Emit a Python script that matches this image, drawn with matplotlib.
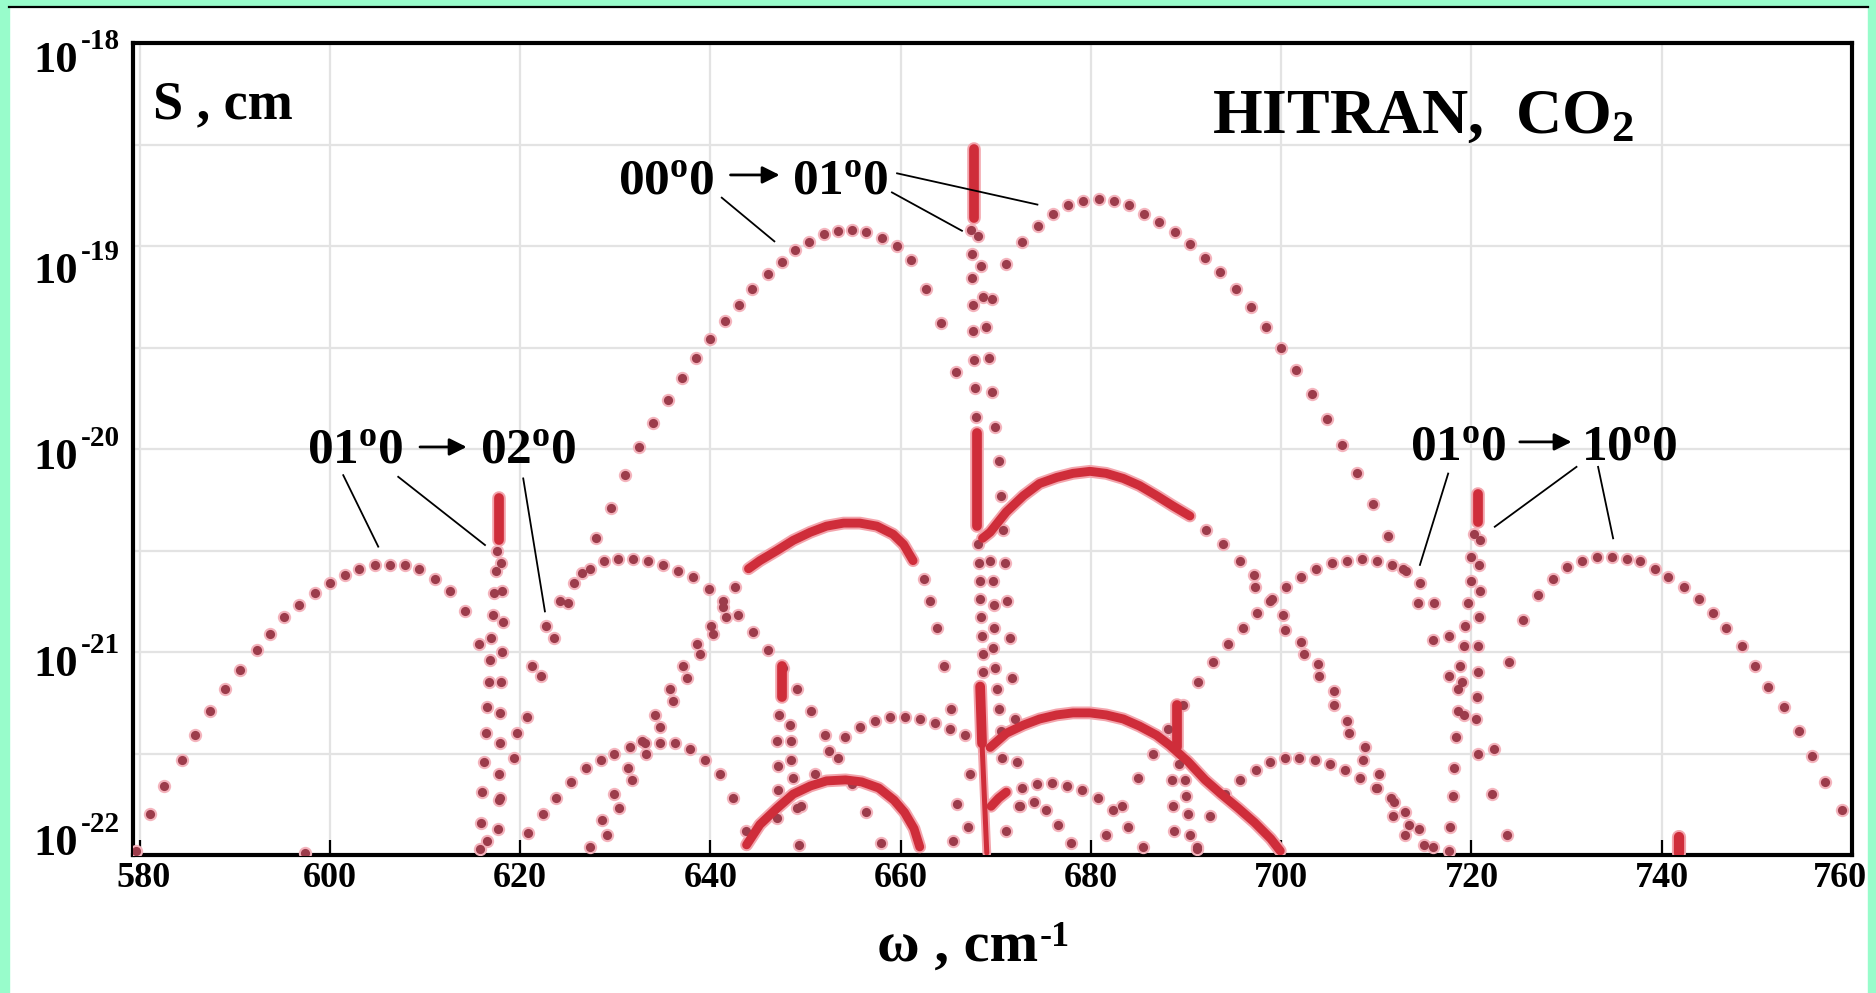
import numpy as np
import matplotlib
matplotlib.use('Agg')
import matplotlib.pyplot as plt
from matplotlib.patches import Rectangle
from matplotlib.lines import Line2D
from matplotlib.transforms import ScaledTranslation

plt.rcParams['font.family'] = ['Liberation Serif', 'DejaVu Serif']
plt.rcParams['mathtext.fontset'] = 'custom'
plt.rcParams['mathtext.rm'] = 'Liberation Serif:bold'
plt.rcParams['mathtext.bf'] = 'Liberation Serif:bold'
plt.rcParams['mathtext.it'] = 'Liberation Serif:bold'

# ---------------------------------------------------------------------------
# Line positions (cm^-1) and log10 of line intensities S (cm/molecule)
# ---------------------------------------------------------------------------
# 00^0 0 -> 01^1 0 fundamental
fund_p_nu = [665.8, 664.2, 662.7, 661.1, 659.6, 658.0, 656.4, 654.9, 653.4, 651.9, 650.4, 648.9,
             647.5, 646.0, 644.4, 643.0, 641.5, 640.0, 638.5, 637.0, 635.5, 634.0, 632.5, 631.0,
             629.5, 628.0, 626.5, 625.0, 623.6, 622.2, 620.7, 619.3, 617.9, 616.5]
fund_p_logs = [-19.62, -19.38, -19.21, -19.07, -19.00, -18.96, -18.93, -18.92, -18.925, -18.94, -18.98, -19.02,
               -19.08, -19.14, -19.21, -19.29, -19.37, -19.46, -19.55, -19.65, -19.76, -19.87, -19.99, -20.13,
               -20.29, -20.44, -20.61, -20.76, -20.93, -21.12, -21.32, -21.52, -21.72, -21.93]
fund_r_nu = [669.6, 671.1, 672.8, 674.4, 676.0, 677.6, 679.2, 680.8, 682.4, 684.0, 685.6, 687.2,
             688.8, 690.4, 692.0, 693.6, 695.2, 696.8, 698.4, 700.0, 701.6, 703.2, 704.8, 706.4,
             708.0, 709.6, 711.2, 712.8, 714.4, 716.0, 717.6, 719.2, 720.7, 722.2, 723.7]
fund_r_logs = [-19.26, -19.09, -18.98, -18.90, -18.84, -18.80, -18.78, -18.77, -18.78, -18.80, -18.84, -18.88,
               -18.93, -18.99, -19.06, -19.13, -19.21, -19.30, -19.40, -19.50, -19.61, -19.73, -19.85, -19.98,
               -20.12, -20.27, -20.43, -20.59, -20.76, -20.94, -21.12, -21.31, -21.50, -21.70, -21.90]
fund_q_top_nu = [667.7, 667.7]
fund_q_top_logs = [-18.52, -18.86]
fund_q_c1_nu = [667.4, 667.5, 667.5, 667.6, 667.6, 667.7, 667.8, 667.9, 669.4, 669.7, 669.8, 669.8,
                669.7, 669.9, 670.1, 670.3, 670.5, 670.7]
fund_q_c1_logs = [-18.92, -19.04, -19.16, -19.29, -19.42, -19.56, -19.70, -19.84, -20.55, -20.65, -20.77, -20.88,
                  -20.98, -21.08, -21.18, -21.28, -21.39, -21.52]
fund_q_c2_nu = [668.1, 668.4, 668.7, 669.0, 669.3, 669.6, 669.9, 670.3, 670.5, 670.8, 671.0, 671.2,
                671.5, 671.7, 672.0, 672.2, 672.4]
fund_q_c2_logs = [-18.95, -19.10, -19.25, -19.40, -19.55, -19.72, -19.89, -20.06, -20.23, -20.40, -20.56, -20.75,
                  -20.93, -21.13, -21.33, -21.54, -21.76]

# 01^1 0 -> 02^2 0 hot band
hot1_q_top_nu = [668.0, 668.0]
hot1_q_top_logs = [-19.92, -20.38]
hot1_q_c_nu = [668.1, 668.2, 668.3, 668.3, 668.4, 668.5, 668.6, 668.6]
hot1_q_c_logs = [-20.47, -20.56, -20.65, -20.74, -20.83, -20.92, -21.01, -21.10]
hot1_p_line_nu = [644.0, 645.2, 647.0, 648.7, 650.5, 652.2, 654.0, 655.7, 657.5, 659.2, 660.3, 661.3]
hot1_p_line_logs = [-20.59, -20.55, -20.50, -20.45, -20.41, -20.38, -20.365, -20.365, -20.38, -20.42, -20.47, -20.55]
hot1_p_nearq_nu = [662.4, 663.1, 663.8, 664.6, 665.3]
hot1_p_nearq_logs = [-20.64, -20.75, -20.88, -21.07, -21.28]
hot1_p_tail_a_nu = [642.6, 641.3, 640.1, 638.6, 637.1, 635.7, 634.2, 632.8, 631.3, 629.9, 628.6, 627.3]
hot1_p_tail_a_logs = [-20.68, -20.78, -20.87, -20.96, -21.07, -21.18, -21.31, -21.44, -21.57, -21.70, -21.83, -21.96]
hot1_p_tail_b_nu = [641.6, 640.3, 638.9, 637.5, 636.1, 634.7, 633.2, 631.8, 630.4, 629.1]
hot1_p_tail_b_logs = [-20.83, -20.91, -21.01, -21.13, -21.24, -21.37, -21.50, -21.63, -21.77, -21.90]
hot1_r_line_nu = [668.6, 669.4, 671.1, 672.9, 674.6, 676.4, 678.1, 679.9, 681.6, 683.4, 685.1, 686.9, 688.6, 690.4]
hot1_r_line_logs = [-20.44, -20.41, -20.31, -20.23, -20.17, -20.14, -20.12, -20.11, -20.12, -20.145, -20.18, -20.23,
                    -20.28, -20.33]
hot1_r_tail_a_nu = [692.1, 693.9, 695.7, 697.1, 698.8, 700.2, 702.1, 703.9, 705.5, 706.9, 708.8, 710.3, 711.9,
                    713.4, 715.0]
hot1_r_tail_a_logs = [-20.40, -20.47, -20.55, -20.62, -20.75, -20.82, -20.95, -21.06, -21.19, -21.34, -21.47,
                      -21.60, -21.74, -21.85, -21.95]
hot1_r_tail_b_nu = [697.2, 700.4, 702.4, 704.0, 705.6, 707.1, 708.6, 710.1, 711.7, 713.0]
hot1_r_tail_b_logs = [-20.68, -20.89, -21.01, -21.12, -21.26, -21.40, -21.53, -21.67, -21.81, -21.90]

# 02^2 0 -> 03^3 0 hot band
hot2_q_top_nu = [668.35, 668.55]
hot2_q_top_logs = [-21.17, -21.45]
hot2_q_low_nu = [668.55, 668.8, 669.05]
hot2_q_low_logs = [-21.45, -21.72, -21.99]
hot2_p_nu = [643.8, 645.2, 647.0, 648.7, 650.5, 652.2, 654.2, 655.9, 657.7, 659.3, 660.4, 661.4, 662.0]
hot2_p_logs = [-21.95, -21.85, -21.77, -21.70, -21.66, -21.635, -21.63, -21.64, -21.67, -21.73, -21.79, -21.87,
               -21.96]
hot2_r_nu = [669.4, 671.1, 672.9, 674.6, 676.4, 678.1, 679.9, 681.6, 683.4, 685.1, 686.9, 688.3, 690.2,
             692.0, 693.7, 695.5, 697.2, 698.9, 699.9]
hot2_r_logs = [-21.47, -21.40, -21.36, -21.33, -21.31, -21.30, -21.30, -21.31, -21.33, -21.365, -21.41, -21.46,
               -21.54, -21.63, -21.70, -21.77, -21.84, -21.92, -21.98]

# 01^1 0 -> 02^0 0 band (618)
b618_p_nu = [579.6, 581.1, 582.6, 584.4, 585.8, 587.4, 589.0, 590.5, 592.3, 593.7, 595.2, 596.8,
             598.4, 600.0, 601.6, 603.1, 604.7, 606.3, 607.9, 609.4, 611.0, 612.6, 614.2, 615.7]
b618_p_logs = [-21.98, -21.80, -21.66, -21.53, -21.41, -21.29, -21.18, -21.09, -20.99, -20.91, -20.83, -20.77,
               -20.71, -20.66, -20.62, -20.59, -20.57, -20.57, -20.57, -20.59, -20.64, -20.70, -20.80, -20.96]
b618_q_top_nu = [617.8, 617.8]
b618_q_top_logs = [-20.24, -20.45]
b618_q_a_nu = [617.6, 617.5, 617.3, 617.1, 616.9, 616.8, 616.7, 616.5, 616.4, 616.2, 616.0, 615.9, 615.8]
b618_q_a_logs = [-20.50, -20.60, -20.71, -20.82, -20.93, -21.04, -21.15, -21.27, -21.40, -21.54, -21.69,
                 -21.84, -21.97]
b618_q_b_nu = [618.0, 618.1, 618.2, 618.1, 618.0, 617.9, 617.9, 617.8, 617.8, 617.7]
b618_q_b_logs = [-20.56, -20.70, -20.85, -21.00, -21.15, -21.30, -21.45, -21.60, -21.73, -21.87]
b618_r_nu = [619.7, 621.2, 622.7, 624.2, 625.7, 627.3, 628.8, 630.3, 631.9, 633.4, 635.0, 636.6, 638.2,
             639.8, 641.3, 642.9, 644.5, 646.1, 647.6, 649.1, 650.6, 652.0, 653.4, 654.9, 656.4, 657.9]
b618_r_logs = [-21.40, -21.07, -20.87, -20.75, -20.66, -20.59, -20.55, -20.54, -20.54, -20.55, -20.57, -20.60,
               -20.63, -20.69, -20.75, -20.82, -20.90, -20.99, -21.08, -21.18, -21.29, -21.41, -21.52, -21.65,
               -21.79, -21.94]

# 01^1 0 -> 10^0 0 band (721)
b721_p_nu = [681.6, 683.3, 684.9, 686.5, 688.1, 689.7, 691.2, 692.8, 694.4, 696.0, 697.5, 699.0, 700.5,
             702.1, 703.7, 705.3, 706.9, 708.5, 710.1, 711.6, 713.1, 714.6, 716.1, 717.6, 719.0]
b721_p_logs = [-21.90, -21.76, -21.62, -21.50, -21.38, -21.26, -21.15, -21.05, -20.96, -20.88, -20.81, -20.74,
               -20.68, -20.63, -20.59, -20.56, -20.55, -20.54, -20.55, -20.57, -20.60, -20.66, -20.76, -20.92,
               -21.15]
b721_q_top_nu = [720.7, 720.7]
b721_q_top_logs = [-20.22, -20.36]
b721_q_a_nu = [720.3, 720.0, 719.9, 719.6, 719.3, 719.2, 718.8, 718.6, 718.6, 718.4, 718.2, 718.1, 717.7, 717.6]
b721_q_a_logs = [-20.42, -20.53, -20.65, -20.76, -20.87, -20.97, -21.07, -21.18, -21.29, -21.42, -21.57,
                 -21.71, -21.86, -21.98]
b721_q_b_nu = [720.9, 720.8, 720.9, 720.8, 720.7, 720.7, 720.6, 720.5]
b721_q_b_logs = [-20.45, -20.57, -20.70, -20.83, -20.97, -21.10, -21.22, -21.33]
b721_r_nu = [722.4, 723.9, 725.4, 727.0, 728.6, 730.0, 731.6, 733.2, 734.8, 736.3, 737.7, 739.3, 740.7,
             742.3, 743.9, 745.4, 746.8, 748.4, 749.8, 751.2, 752.9, 754.4, 755.8, 757.2, 758.9]
b721_r_logs = [-21.48, -21.05, -20.84, -20.72, -20.64, -20.58, -20.55, -20.53, -20.53, -20.54, -20.55, -20.59,
               -20.63, -20.68, -20.74, -20.81, -20.88, -20.97, -21.07, -21.17, -21.27, -21.39, -21.51, -21.64,
               -21.78]

# weaker band with Q branch near 647 cm^-1
b647_q_top_nu = [647.5, 647.5]
b647_q_top_logs = [-21.07, -21.22]
b647_q_a_nu = [647.2, 647.0, 647.1, 647.1, 647.0]
b647_q_a_logs = [-21.31, -21.44, -21.56, -21.68, -21.82]
b647_q_b_nu = [648.4, 648.5, 648.5, 648.7, 649.1, 649.3]
b647_q_b_logs = [-21.36, -21.44, -21.53, -21.62, -21.77, -21.95]
b647_p_nu = [620.8, 622.4, 623.8, 625.3, 626.9, 628.5, 629.9, 631.5, 633.1, 634.7, 636.3, 637.9, 639.4,
             641.0, 642.4, 643.7]
b647_p_logs = [-21.89, -21.80, -21.72, -21.64, -21.57, -21.53, -21.50, -21.47, -21.45, -21.45, -21.45, -21.48,
               -21.53, -21.60, -21.72, -21.88]
b647_r_nu = [649.5, 651.0, 652.5, 654.1, 655.7, 657.3, 658.9, 660.4, 662.0, 663.6, 665.2, 666.8]
b647_r_logs = [-21.76, -21.60, -21.49, -21.42, -21.37, -21.34, -21.32, -21.32, -21.33, -21.35, -21.38, -21.41]

# weaker band with Q branch near 689 cm^-1
b689_q_top_nu = [689.0, 689.0]
b689_q_top_logs = [-21.26, -21.47]
b689_q_a_nu = [689.3, 689.9, 690.0, 690.2, 690.4, 691.1]
b689_q_a_logs = [-21.55, -21.63, -21.71, -21.80, -21.90, -21.97]
b689_q_b_nu = [688.5, 688.6, 688.7]
b689_q_b_logs = [-21.63, -21.76, -21.88]
b689_p_head_nu = [669.5, 670.3, 671.1]
b689_p_head_logs = [-21.76, -21.72, -21.69]
b689_p_nu = [672.7, 674.3, 675.9, 677.5, 679.1, 680.7, 682.3, 683.9, 685.5]
b689_p_logs = [-21.67, -21.65, -21.645, -21.66, -21.68, -21.72, -21.78, -21.86, -21.96]
b689_low_nu = [671.1, 672.5, 674.0, 675.3, 676.5, 677.9]
b689_low_logs = [-21.88, -21.76, -21.74, -21.78, -21.85, -21.94]
b689_r_nu = [691.1, 692.5, 694.1, 695.7, 697.3, 698.8, 700.4, 701.9, 703.5, 705.1, 706.7, 708.3, 710.0,
             711.5, 713.0, 714.5, 716.0]
b689_r_logs = [-21.96, -21.81, -21.70, -21.63, -21.58, -21.54, -21.52, -21.52, -21.53, -21.55, -21.58, -21.62,
               -21.67, -21.72, -21.79, -21.87, -21.96]

# Q branch near 742 cm^-1 and a few isolated weak lines
b742_q_nu = [741.8, 741.8, 741.8]
b742_q_logs = [-21.91, -21.95, -21.99]
misc_nu = [667.3, 665.9, 667.1, 665.5, 597.4]
misc_logs = [-21.60, -21.75, -21.86, -21.93, -21.99]

# axis ticks
x_ticks = [580, 600, 620, 640, 660, 680, 700, 720, 740, 760]
y_decades = [-18, -19, -20, -21, -22]

# ---------------------------------------------------------------------------
W, H = 1876, 993
fig = plt.figure(figsize=(W / 100, H / 100), dpi=100)
fig.patch.set_facecolor('white')


def fx(px):
    return px / W


def fy(py):
    return 1 - py / H


# aquamarine frame around the page
AQUA = '#98fccb'
fig.patches.append(Rectangle((0, 0), fx(9), 1, transform=fig.transFigure, color=AQUA, zorder=0))
fig.patches.append(Rectangle((fx(1868), 0), fx(8), 1, transform=fig.transFigure, color=AQUA, zorder=0))
fig.patches.append(Rectangle((0, fy(6)), 1, 6 / H, transform=fig.transFigure, color=AQUA, zorder=0))
fig.lines.append(Line2D([fx(9), fx(1868)], [fy(7), fy(7)], transform=fig.transFigure, color='black', lw=1.6))

ax = fig.add_axes([fx(133), fy(855), (1852 - 133) / W, (855 - 43) / H])
ax.set_yscale('log')
ax.set_xlim(579.3, 760.0)
ax.set_ylim(10 ** -21.985, 1e-18)

# grid: every 20 cm^-1 and every half decade
ax.set_xticks(x_ticks)
ax.set_xticklabels([str(t) for t in x_ticks], fontsize=26, fontweight='bold')
ax.set_yticks([10 ** (-18 - 0.5 * k) for k in range(9)])
ax.set_yticklabels([])
ax.yaxis.set_minor_locator(matplotlib.ticker.NullLocator())
ax.grid(True, color='#e3e3e3', lw=1.6, zorder=0)
ax.set_axisbelow(True)
ax.tick_params(axis='x', direction='in', length=11, width=1.6, pad=5, colors='black')
ax.tick_params(axis='y', length=0)
for s in ax.spines.values():
    s.set_linewidth(3.0)

# nudge the end labels so they stay inside the page
xlabels = ax.get_xticklabels()
xlabels[0].set_transform(xlabels[0].get_transform() + ScaledTranslation(0.04, 0, fig.dpi_scale_trans))
xlabels[-1].set_transform(xlabels[-1].get_transform() + ScaledTranslation(-0.12, 0, fig.dpi_scale_trans))

DOT = '#9c3c4b'
HALO = '#f4b4bd'
RED = '#cf2d3a'
RED_HALO = '#f3a5ad'


def dots(nu, logs):
    s = np.power(10.0, logs)
    ax.plot(nu, s, 'o', ms=9.6, color=HALO, mec='none', ls='none', zorder=3)
    ax.plot(nu, s, 'o', ms=6.6, color=DOT, mec='none', ls='none', zorder=4)


def dense(nu, logs, lw=6.4):
    s = np.power(10.0, logs)
    ax.plot(nu, s, '-', lw=lw + 2.8, color=RED_HALO, solid_capstyle='round', zorder=3)
    ax.plot(nu, s, '-', lw=lw, color=RED, solid_capstyle='round', solid_joinstyle='round', zorder=5)


# fundamental
dots(fund_p_nu, fund_p_logs)
dots(fund_r_nu, fund_r_logs)
dots(fund_q_c1_nu, fund_q_c1_logs)
dots(fund_q_c2_nu, fund_q_c2_logs)
dense(fund_q_top_nu, fund_q_top_logs, lw=7.0)

# first hot band
dense(hot1_q_top_nu, hot1_q_top_logs, lw=7.0)
dots(hot1_q_c_nu, hot1_q_c_logs)
dense(hot1_p_line_nu, hot1_p_line_logs)
dots(hot1_p_nearq_nu, hot1_p_nearq_logs)
dots(hot1_p_tail_a_nu, hot1_p_tail_a_logs)
dots(hot1_p_tail_b_nu, hot1_p_tail_b_logs)
dense(hot1_r_line_nu, hot1_r_line_logs)
dots(hot1_r_tail_a_nu, hot1_r_tail_a_logs)
dots(hot1_r_tail_b_nu, hot1_r_tail_b_logs)

# second hot band
dense(hot2_q_top_nu, hot2_q_top_logs, lw=7.0)
dense(hot2_q_low_nu, hot2_q_low_logs, lw=3.6)
dense(hot2_p_nu, hot2_p_logs)
dense(hot2_r_nu, hot2_r_logs)

# 618 and 721 bands
dots(b618_p_nu, b618_p_logs)
dense(b618_q_top_nu, b618_q_top_logs, lw=7.0)
dots(b618_q_a_nu, b618_q_a_logs)
dots(b618_q_b_nu, b618_q_b_logs)
dots(b618_r_nu, b618_r_logs)
dots(b721_p_nu, b721_p_logs)
dense(b721_q_top_nu, b721_q_top_logs, lw=7.0)
dots(b721_q_a_nu, b721_q_a_logs)
dots(b721_q_b_nu, b721_q_b_logs)
dots(b721_r_nu, b721_r_logs)

# weaker bands
dense(b647_q_top_nu, b647_q_top_logs, lw=7.0)
dots(b647_q_a_nu, b647_q_a_logs)
dots(b647_q_b_nu, b647_q_b_logs)
dots(b647_p_nu, b647_p_logs)
dots(b647_r_nu, b647_r_logs)
dense(b689_q_top_nu, b689_q_top_logs, lw=7.0)
dots(b689_q_a_nu, b689_q_a_logs)
dots(b689_q_b_nu, b689_q_b_logs)
dense(b689_p_head_nu, b689_p_head_logs)
dots(b689_p_nu, b689_p_logs)
dots(b689_low_nu, b689_low_logs)
dots(b689_r_nu, b689_r_logs)
dense(b742_q_nu, b742_q_logs, lw=7.4)
dots(misc_nu, misc_logs)

# ---------------------------------------------------------------------------
# y tick labels drawn as "10" with a raised exponent
y_base_px = {-18: 72, -19: 283, -20: 469, -21: 676, -22: 855}
for d in y_decades:
    b = y_base_px[d]
    fig.text(fx(78), fy(b), '10', ha='right', va='baseline', fontsize=32, fontweight='bold')
    fig.text(fx(81), fy(b - 23), str(d), ha='left', va='baseline', fontsize=21, fontweight='bold')

# axis captions
xcap = fig.text(fx(877), fy(962), '\u03c9 , cm', ha='left', va='baseline', fontsize=42, fontweight='bold')
ax.annotate('-1', xy=(1, 0), xycoords=xcap, xytext=(1, 20), textcoords='offset points',
            ha='left', va='baseline', fontsize=26, fontweight='bold', annotation_clip=False)
ax.text(0.0116, 0.9076, 'S , cm', transform=ax.transAxes, ha='left', va='baseline',
        fontsize=39, fontweight='bold')
ax.text(0.6277, 0.8892, r'HITRAN,  CO$_{\mathbf{2}}$', transform=ax.transAxes, ha='left', va='baseline',
        fontsize=46, fontweight='bold')


# transition labels with arrows and leader lines
def transition(left_a, left_b, base_log, arrow_from, arrow_to, arrow_log, lab_a, lab_b, leaders):
    for xl, lab in ((left_a, lab_a), (left_b, lab_b)):
        ax.text(xl, 10 ** base_log, lab, ha='left', va='baseline', fontsize=37, fontweight='bold', zorder=6)
    ax.annotate('', xy=(arrow_to, 10 ** arrow_log), xytext=(arrow_from, 10 ** arrow_log),
                arrowprops=dict(arrowstyle='-|>', color='black', lw=2.0, mutation_scale=26,
                                shrinkA=0, shrinkB=0), zorder=6)
    for (x0, l0), (x1, l1) in leaders:
        ax.plot([x0, x1], [10 ** l0, 10 ** l1], color='black', lw=1.3, zorder=6)


transition(630.28, 648.57, -18.745, 642.11, 647.27, -18.65,
           r'00$^{\mathbf{o}}$0', r'01$^{\mathbf{o}}$0',
           [((641.19, -18.762), (646.72, -18.977)),
            ((659.08, -18.736), (666.44, -18.925)),
            ((659.62, -18.642), (674.37, -18.796))])
transition(597.56, 615.77, -20.072, 609.47, 614.37, -19.99,
           r'01$^{\mathbf{o}}$0', r'02$^{\mathbf{o}}$0',
           [((601.40, -20.129), (605.08, -20.481)),
            ((607.18, -20.137), (616.30, -20.473)),
            ((620.32, -20.145), (622.60, -20.800))])
transition(713.52, 731.47, -20.055, 725.08, 730.52, -19.965,
           r'01$^{\mathbf{o}}$0', r'10$^{\mathbf{o}}$0',
           [((717.55, -20.121), (714.58, -20.571)),
            ((731.04, -20.088), (722.45, -20.383)),
            ((733.31, -20.088), (734.89, -20.440))])

fig.savefig('out.png', dpi=100)
